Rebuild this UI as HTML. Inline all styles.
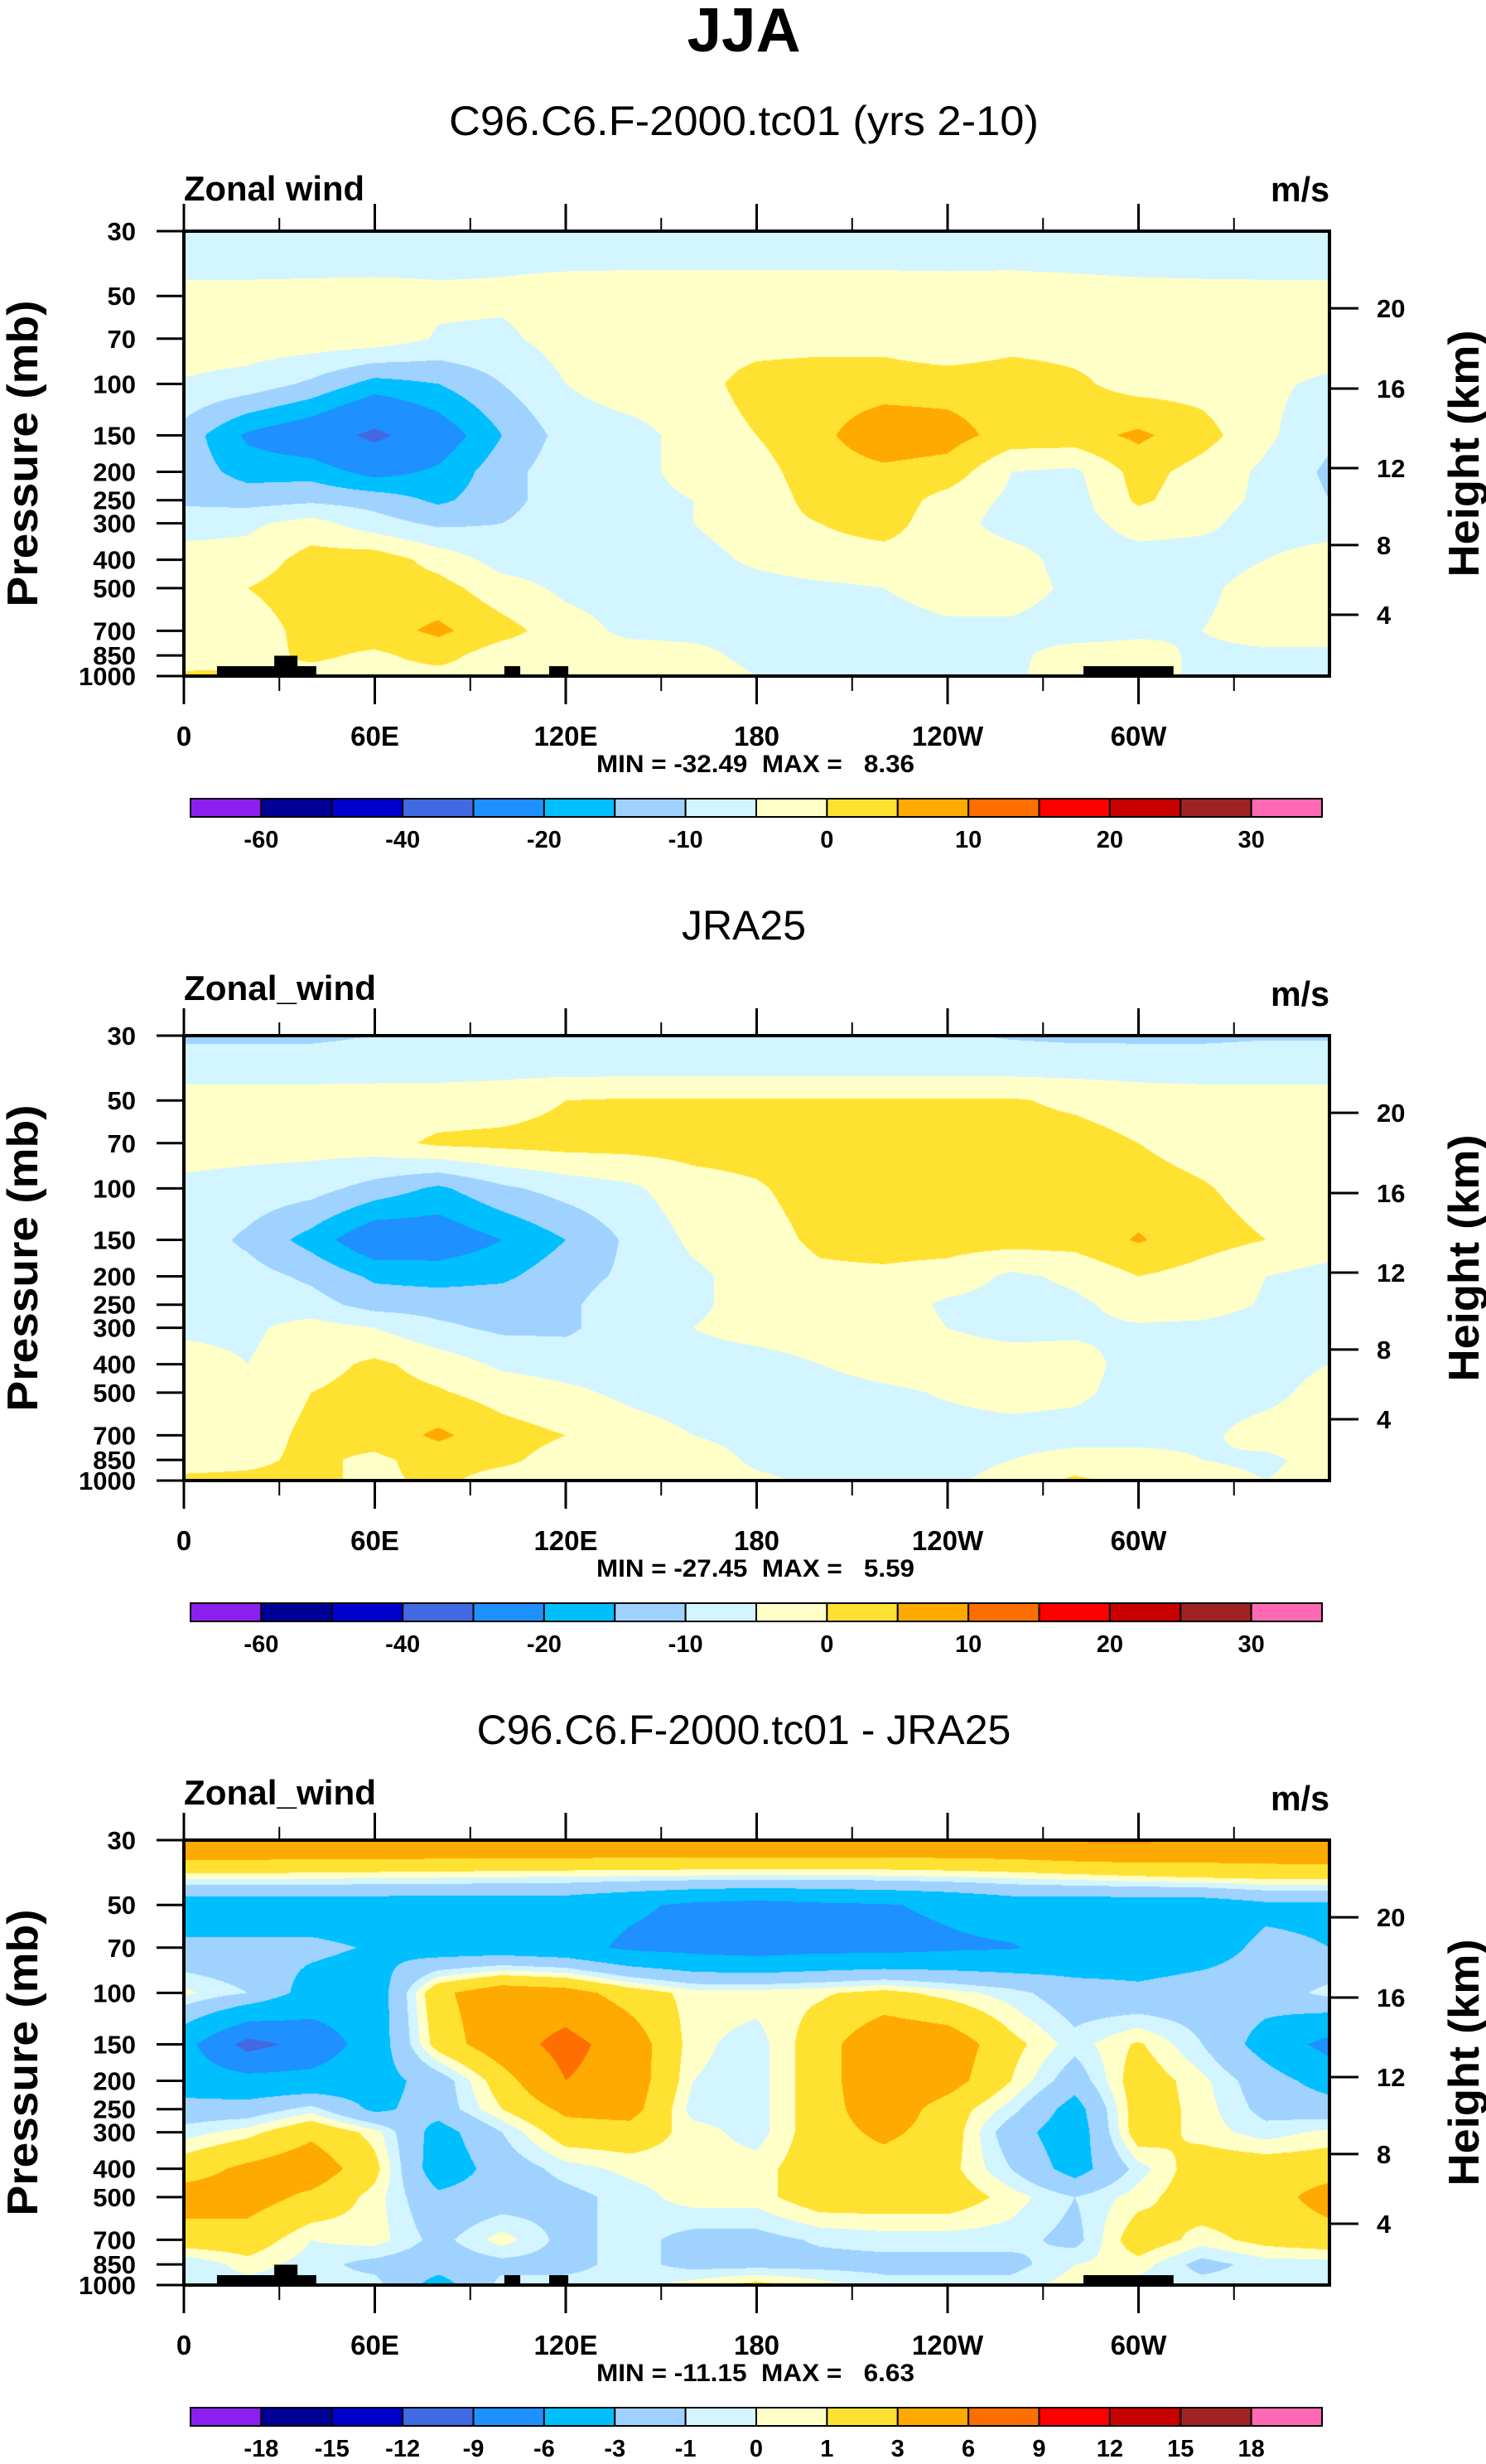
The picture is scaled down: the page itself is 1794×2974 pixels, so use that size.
<!DOCTYPE html>
<html><head><meta charset="utf-8">
<style>
html,body{margin:0;padding:0;background:#fff;}
#wrap{position:relative;width:1794px;height:2974px;background:#fff;overflow:hidden;}
canvas{position:absolute;}
svg{position:absolute;left:0;top:0;}
text{font-family:"Liberation Sans",Arial,sans-serif;fill:#000;}
</style></head>
<body>
<div id="wrap">
<canvas id="c0" width="1383" height="537" style="left:222px;top:279px"></canvas>
<canvas id="c1" width="1383" height="537" style="left:222px;top:1250px"></canvas>
<canvas id="c2" width="1383" height="537" style="left:222px;top:2221px"></canvas>
<svg id="ov" width="1794" height="2974" xmlns="http://www.w3.org/2000/svg">
<text x="898" y="62" text-anchor="middle" font-size="75" font-weight="bold" textLength="137" lengthAdjust="spacingAndGlyphs">JJA</text>
</svg>
</div>
<script>
const lons=[0,20,40,60,80,100,120,140,160,180,200,220,240,260,280,300,320,340,360];
const plevs=[30,40,50,70,100,150,200,250,300,400,500,700,850,1000];
const modelValues=[
[-8,-8,-8,-8,-8,-8,-8,-8,-8,-8,-8,-8,-8,-8,-8,-8,-8,-8,-8],
[-6.5,-6.5,-6.2,-6,-5.8,-5.5,-5.3,-5.2,-5.2,-5.2,-5.2,-5.2,-5.3,-5.2,-5.5,-6,-6.3,-6.5,-6.5],
[-3,-3,-3,-3,-4,-4,-3,-3,-3,-3,-3,-3,-3,-3,-3,-3,-3,-3,-3],
[-2,-2,-2,-2,-5.5,-6,-3,-2,-2,-2,-2,-2,-4.5,-2,-2,-2,-2,-2,-2],
[-5.5,-7,-11,-17,-15,-10,-5,-2,-2,2,3,3,3,3,1,-2,-2,-4,-6],
[-12,-21,-25,-32,-24,-15,-8,-7,-3,0,4,8,7,3,3,6,2,-4,-9],
[-12,-17,-17,-22,-19,-12,-7,-7,-3,-2,3,4,3,-5,-6,2,-2,-6,-11],
[-11,-12,-11,-12,-16,-12,-7,-7,-5,-3,2,3,-2,-6,-7,1,-3,-6,-10],
[-7,-6,-3,-8,-11,-10,-7,-7,-5,-2,0,2,-3,-7,-7,-3,-4,-7,-7],
[-3,-3,2,3,-2,-7,-7,-7,-7,-4,-2,-2,-2,-3,-7,-7,-7,-5,-3],
[-3,0,3,3,2,-3,-6,-7,-7,-7,-6,-5,-3,-3,-6,-7,-6,-3,-3],
[-3,-3,2,3,6,2,-3,-6,-6,-6,-7,-7,-6,-6,-7,-6,-5,-3,-3],
[-3,-2,1,-1,2,-3,-3,-3,-4,-6,-10,-10,-6,-6,-3,-3,-6,-6,-6],
[1,1,-2,-2,-2,-2,-2,-2,-3,-5,-6,-6,-6,-6,-2,-3,-6,-6,-6]];
const jraValues=[
[-11,-11,-11,-10,-9,-9,-9,-9,-9,-9,-9,-9,-9.5,-10.5,-11,-11,-11,-10.5,-10.5],
[-6.5,-6.5,-6.5,-6.3,-6.2,-6,-6,-6,-6,-6,-6,-6,-6,-6,-6.2,-6.4,-6.5,-6.5,-6.5],
[-3,-3,-3,-3,-3,-2.5,0,0.5,0.5,0.5,0.5,0.5,0.5,0.5,-1,-2.5,-3,-3,-3],
[-3,-3,-3,-2,1,1.5,2,2,2,2,2,2,2,2,2,0,-2,-3,-3],
[-6,-7,-8,-12,-16,-11,-8,-6,-2,-0.5,2,2,2,2,2,2,0.5,-2,-3],
[-7,-11,-17,-25,-24,-20,-15,-9,-4,-2,1,2,2,2,2,5.5,2,0,-2],
[-8,-8,-11,-16,-17,-16,-12,-9,-6,-3,-1,-1,-2,-6,-4,0,-2,-5,-7],
[-7,-7,-8,-12,-12,-12,-11,-7,-6,-3,-2,-2,-6,-7,-6,-3,-3,-5.5,-7],
[-6,-6,-3,-5,-9,-11,-11,-7,-5,-3,-2,-2,-5,-7,-6,-5.5,-6,-7,-7],
[-3,-5,-2,1,-2,-6,-7,-7,-7,-7,-5,-3,-2,-2,-3,-7,-7,-7,-5],
[-2,-3,0,2,0.5,-2,-4,-6,-7,-7,-7,-6,-4.5,-3,-4,-7,-7,-6.5,-3],
[-2,-2,1,2,6,2,0,-3,-5,-7,-7,-7,-7,-7,-7,-7,-6,-3,-2],
[-2,-1,1,-1,2,1,-2,-2,-2,-6,-7,-7,-7,-5,-3,-3,-5,-6,-3],
[1,1,1,-1,1,-2,-2,-2,-2,-4,-6,-6,-6,-3,1,-2,-3,-5,-3]];
const diffValues=[
[5.9,5.9,5.9,5.9,5.9,5.9,5.9,5.9,5.9,5.9,5.9,5.9,5.9,5.9,6.3,6.4,5.9,5.9,5.9],
[0.5,0.5,0.4,0.3,0.2,0.1,0,-0.1,-0.2,-0.3,-0.3,-0.2,0,0.3,0.6,0.9,1.2,1.4,1.5],
[-4.5,-4.5,-4.5,-4.5,-4.5,-4.5,-4.5,-5.5,-6.5,-7,-6.5,-6.2,-5.5,-4.5,-4.5,-4.5,-4.5,-3.5,-3.5],
[-2.5,-2.5,-2.5,-3.2,-4.5,-4.5,-5,-6.5,-7,-7.5,-7,-7,-6.5,-6.2,-5,-4.5,-4,-2.5,-3],
[0.3,-1,-4,-4.5,2.5,4.5,4,2,0.5,0.5,0.8,1.5,0.5,-0.5,-2,-2.5,-2,-2,-0.5],
[-5,-10,-8,-4.5,1.8,4.5,7,4.5,0.3,-0.5,2,5,4.5,1.5,-0.5,1.2,-1,-4,-7],
[-4.5,-5,-5,-4,-2,2,6,4.5,0,-0.5,2,5,4,1,-2,2,0.3,-2,-4],
[-2,-2,-0.5,-3.5,-2,1,3.5,4,-0.5,-0.5,2,4.5,2,-0.5,-4,2,0.5,-1.5,-2],
[-0.5,0.5,2.5,0.5,-4,-1,2,2,0.5,-0.5,2,3.5,2,-2,-4.5,2,0.5,-0.5,0.3],
[2,3.5,4.5,1.5,-4.5,-2,-0.5,0.3,0.5,0.5,2,2,1.5,-1,-4,-0.5,2,2,2],
[4,4,2.5,0.5,-2.5,-2,-1.5,-0.5,0.5,0.5,2,2,2,0.5,-1,0.5,2,2,4],
[2,2,0,0.5,-1.5,0.5,-1.5,-0.5,-1.5,-1.5,-0.8,-0.5,-0.5,-0.5,-1.5,2,0.5,1.5,2],
[-1,0.5,-0.5,-1.5,-2,-1.5,-1.5,-0.5,-1.5,-1.5,-1.5,-1.5,-1.5,-1.5,0,0.5,-1.5,-0.5,-0.5],
[-0.5,-0.5,-0.5,-0.5,-4,-0.5,-0.5,-0.5,0.5,1.5,0.5,-0.5,-0.5,-0.5,0.5,-0.5,-0.5,-0.5,-0.5]];
const levelsA=[-60,-50,-40,-30,-20,-15,-10,-5,0,5,10,15,20,25,30];
const levelsB=[-18,-15,-12,-9,-6,-3,-1,0,1,3,6,9,12,15,18];
const fillColors=["#8c1ff0","#000096","#0000cd","#4169e1","#1e90ff","#00bfff","#a0d2ff","#d2f5ff","#ffffc8","#ffe132","#ffaa00","#ff6e00","#ff0000","#c80000","#a02323","#ff69b4"];
const pLabels=[30,50,70,100,150,200,250,300,400,500,700,850,1000];
const xTickLons=[0,60,120,180,240,300];
const xTickLabels=["0","60E","120E","180","120W","60W"];
const xMinorLons=[30,90,150,210,270,330];
const kmLabels=["20","16","12","8","4"];
const kmPressures=[55.1,103.7,194.2,356,617];
const topoLonStart=[10.4,28.4,100.7,114.8,282.7];
const topoLonEnd=[41.6,35.7,105.7,120.8,311];
const topoTopP=[925,852,925,925,925];
const panelTitles=["C96.C6.F-2000.tc01 (yrs 2-10)","JRA25","C96.C6.F-2000.tc01 - JRA25"];
const panelTitleLen=[712,0,0];
const minMaxText=["MIN = -32.49  MAX =   8.36","MIN = -27.45  MAX =   5.59","MIN = -11.15  MAX =   6.63"];
const leftStrings=["Zonal wind","Zonal_wind","Zonal_wind"];

const X0=222,W=1383,H=537,TOPS=[279,1250,2221];
const LNR=Math.log(1000/30);
function xOf(lon){return X0+lon/360*W;}
function yOf(p,top){return top+Math.log(p/30)/LNR*H;}
function rgb(h){return [parseInt(h.substr(1,2),16),parseInt(h.substr(3,2),16),parseInt(h.substr(5,2),16)];}
const RGB=fillColors.map(rgb);
function classOf(v,lev){let k=0;while(k<lev.length&&v>=lev[k])k++;return k;}

function fillField(cid,vals,lev){
  const cv=document.getElementById(cid),ctx=cv.getContext('2d');
  const img=ctx.createImageData(W,H),d=img.data;
  const ly=plevs.map(p=>Math.log(p/30)/LNR*H);
  const rowK=[],rowF=[];
  for(let py=0;py<H;py++){const y=py+0.5;let k=0;while(k<plevs.length-2&&y>ly[k+1])k++;rowK.push(k);rowF.push(Math.min(1,Math.max(0,(y-ly[k])/(ly[k+1]-ly[k]))));}
  const colI=[],colF=[];
  for(let px=0;px<W;px++){const lon=(px+0.5)/W*360;let i=Math.min(lons.length-2,Math.floor(lon/20));colI.push(i);colF.push((lon-lons[i])/(lons[i+1]-lons[i]));}
  for(let py=0;py<H;py++){const k=rowK[py],fy=rowF[py],r0=vals[k],r1=vals[k+1];
    for(let px=0;px<W;px++){const i=colI[px],fx=colF[px];
      const v=(r0[i]*(1-fx)+r0[i+1]*fx)*(1-fy)+(r1[i]*(1-fx)+r1[i+1]*fx)*fy;
      const c=RGB[classOf(v,lev)];const o=(py*W+px)*4;d[o]=c[0];d[o+1]=c[1];d[o+2]=c[2];d[o+3]=255;}}
  ctx.putImageData(img,0,0);
}
fillField('c0',modelValues,levelsA);
fillField('c1',jraValues,levelsA);
fillField('c2',diffValues,levelsB);

const NS="http://www.w3.org/2000/svg",ov=document.getElementById('ov');
function mk(tag,attrs,txt){const e=document.createElementNS(NS,tag);for(const k in attrs)e.setAttribute(k,attrs[k]);if(txt!==undefined)e.textContent=txt;ov.appendChild(e);return e;}

for(let n=0;n<3;n++){
  const T=TOPS[n],B=T+H,X1=X0+W;
  let t=mk('text',{x:898,y:T-116,'text-anchor':'middle','font-size':50},panelTitles[n]);
  if(panelTitleLen[n]){t.setAttribute('textLength',panelTitleLen[n]);t.setAttribute('lengthAdjust','spacingAndGlyphs');}
  
  
  t=mk('text',{x:X0,y:n==0?T-37:T-43,'font-size':42,'font-weight':'bold',textLength:n==0?218:232,lengthAdjust:'spacingAndGlyphs'},leftStrings[n]);
  
  
  t=mk('text',{x:X1,y:T-36,'text-anchor':'end','font-size':42,'font-weight':'bold',textLength:71,lengthAdjust:'spacingAndGlyphs'},'m/s');
  
  
  if(n!==1){for(let j=0;j<topoLonStart.length;j++){const x1=xOf(topoLonStart[j]),x2=xOf(topoLonEnd[j]),yt=yOf(topoTopP[j],T);
    const r=mk('rect',{x:x1,y:yt,width:x2-x1,height:B-yt,fill:'#000'});
    
    }}
  const f=mk('rect',{x:X0,y:T,width:W,height:H,fill:'none',stroke:'#000','stroke-width':4});
  
  
  for(const p of pLabels){const y=yOf(p,T);
    const l=mk('line',{x1:189,x2:X0,y1:y,y2:y,stroke:'#000','stroke-width':3});
    
    
    const tx=mk('text',{x:164,y:y+11,'text-anchor':'end','font-size':31,'font-weight':'bold'},String(p));
    
    }
  for(let j=0;j<kmLabels.length;j++){const y=yOf(kmPressures[j],T);
    const l=mk('line',{x1:X1,x2:X1+35,y1:y,y2:y,stroke:'#000','stroke-width':3});
    
    
    const tx=mk('text',{x:1662,y:y+11,'font-size':31,'font-weight':'bold'},kmLabels[j]);
    
    }
  for(let j=0;j<xTickLons.length;j++){const x=xOf(xTickLons[j]);
    let l=mk('line',{x1:x,x2:x,y1:B,y2:B+34,stroke:'#000','stroke-width':3});
    
    
    l=mk('line',{x1:x,x2:x,y1:T,y2:T-33,stroke:'#000','stroke-width':3});
    
    
    const tx=mk('text',{x:x,y:B+84,'text-anchor':'middle','font-size':33,'font-weight':'bold'},xTickLabels[j]);
    
    }
  for(const lon of xMinorLons){const x=xOf(lon);
    let l=mk('line',{x1:x,x2:x,y1:B,y2:B+18,stroke:'#000','stroke-width':2});
    
    
    l=mk('line',{x1:x,x2:x,y1:T,y2:T-16,stroke:'#000','stroke-width':2});
    
    }
  t=mk('text',{x:912,y:B+116,'text-anchor':'middle','font-size':30,'font-weight':'bold','xml:space':'preserve',style:'white-space:pre',textLength:384,lengthAdjust:'spacingAndGlyphs'},minMaxText[n]);
  
  
  t=mk('text',{x:0,y:0,'text-anchor':'middle','font-size':52,'font-weight':'bold',transform:'translate(45,'+(T+H/2)+') rotate(-90)',textLength:370,lengthAdjust:'spacingAndGlyphs'},'Pressure (mb)');
  
  
  t=mk('text',{x:0,y:0,'text-anchor':'middle','font-size':52,'font-weight':'bold',transform:'translate(1785,'+(T+H/2)+') rotate(-90)',textLength:298,lengthAdjust:'spacingAndGlyphs'},'Height (km)');
  
  
  const cx0=230,cw=(1596-230)/16,cy=B+148,ch=22,lev=n==2?levelsB:levelsA;
  for(let j=0;j<16;j++){const r=mk('rect',{x:cx0+j*cw,y:cy,width:cw,height:ch,fill:fillColors[j],stroke:'#000','stroke-width':2});
    
    }
  for(let j=0;j<lev.length;j++){if(n!=2&&j%2==1)continue;
    const tx=mk('text',{x:cx0+(j+1)*cw,y:B+207,'text-anchor':'middle','font-size':29,'font-weight':'bold'},String(lev[j]));
    
    }
}
</script>
</body></html>
